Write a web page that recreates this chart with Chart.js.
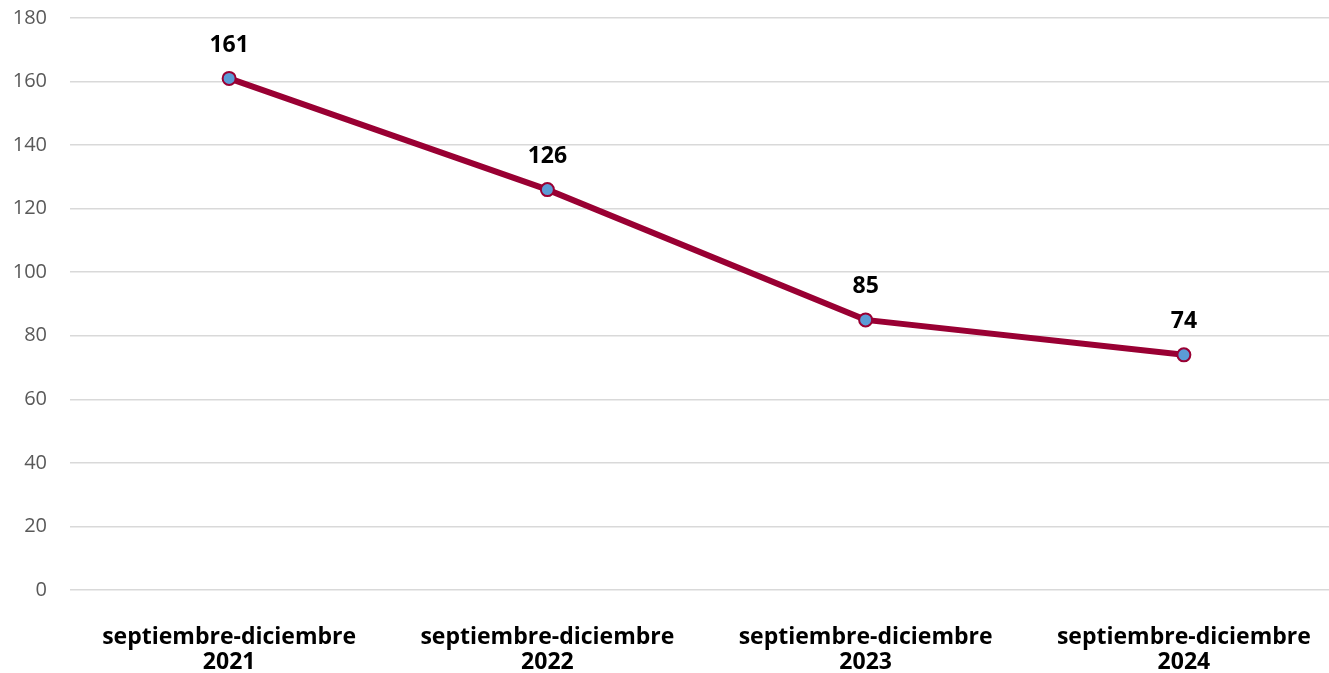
<!DOCTYPE html>
<html>
<head>
<meta charset="utf-8">
<script src="https://cdn.jsdelivr.net/npm/chart.js@4/dist/chart.umd.min.js"></script>
<style>
  html, body { margin: 0; padding: 0; background: #fff; overflow: hidden; }
  #wrap { width: 1343px; height: 673px; }
</style>
</head>
<body>
<div id="wrap"><canvas id="lineChart"></canvas></div>
<script>
// categorías (dos líneas por etiqueta)
const categories = [
  ['septiembre-diciembre', '2021'],
  ['septiembre-diciembre', '2022'],
  ['septiembre-diciembre', '2023'],
  ['septiembre-diciembre', '2024']
];
const values = [161, 126, 85, 74];
const yTicks = [0, 20, 40, 60, 80, 100, 120, 140, 160, 180];

const lineColor = '#990033';
const pointColor = '#5B9BD5';
const fontFamily = '"Open Sans", "Noto Sans", sans-serif';

// etiquetas de datos encima de cada punto
const valueLabels = {
  id: 'valueLabels',
  afterDatasetsDraw(chart) {
    const ctx = chart.ctx;
    const meta = chart.getDatasetMeta(0);
    ctx.save();
    ctx.font = 'bold 23px ' + fontFamily;
    ctx.fillStyle = '#000';
    ctx.textAlign = 'center';
    ctx.textBaseline = 'middle';
    meta.data.forEach((pt, i) => {
      ctx.fillText(String(values[i]), pt.x, pt.y - 33);
    });
    ctx.restore();
  }
};

const ctx = document.getElementById('lineChart').getContext('2d');
new Chart(ctx, {
  type: 'line',
  data: {
    labels: categories,
    datasets: [{
      data: values,
      borderColor: lineColor,
      borderWidth: 6,
      pointRadius: 6.5,
      pointBackgroundColor: pointColor,
      pointBorderColor: lineColor,
      pointBorderWidth: 2,
      tension: 0
    }]
  },
  options: {
    responsive: true,
    maintainAspectRatio: false,
    animation: false,
    layout: { autoPadding: false, padding: { top: 18, right: 0, left: 0, bottom: 0 } },
    scales: {
      x: {
        offset: true,
        grid: { display: false, drawTicks: false },
        border: { display: false },
        ticks: {
          color: '#000',
          padding: 35,
          maxRotation: 0,
          font: { family: fontFamily, size: 23, weight: 'bold', lineHeight: '25px' }
        },
        afterFit(scale) {
          scale.height = 83;
          scale.paddingLeft = 0;
          scale.paddingRight = 0;
        }
      },
      y: {
        min: 0,
        max: 180,
        afterBuildTicks(scale) { scale.ticks = yTicks.map(v => ({ value: v })); },
        grid: { color: '#d9d9d9', lineWidth: 1.5, drawTicks: false },
        border: { display: false },
        ticks: {
          color: '#595959',
          padding: 23,
          font: { family: fontFamily, size: 20 }
        },
        afterFit(scale) {
          scale.width = 70;
          scale.paddingTop = 0;
          scale.paddingBottom = 0;
        }
      }
    },
    plugins: {
      legend: { display: false },
      tooltip: { enabled: false }
    }
  },
  plugins: [valueLabels]
});
</script>
</body>
</html>
